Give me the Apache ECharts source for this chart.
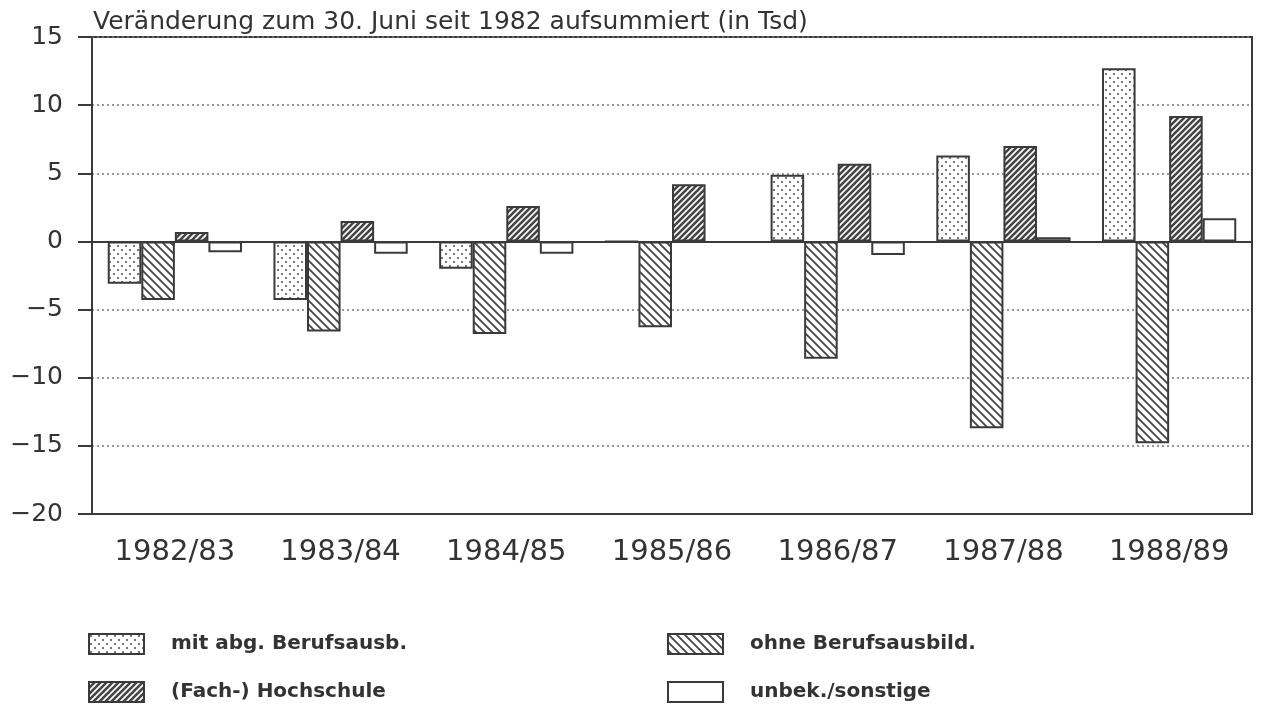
<!DOCTYPE html>
<html>
<head>
<meta charset="utf-8">
<script src="https://cdn.jsdelivr.net/npm/echarts@6/dist/echarts.min.js"></script>
<style>
    html, body { margin: 0; padding: 0; background: #fff; }
    #chart { width: 1265px; height: 711px; }
</style>
</head>
<body>
<div id="chart"></div>
<script>
// 数据 (in Tsd)
var categories = ['1982/83', '1983/84', '1984/85', '1985/86', '1986/87', '1987/88', '1988/89'];
var mitAbg = [-3.1, -4.3, -2.0, 0, 4.9, 6.3, 12.7];
var ohneAusb = [-4.3, -6.6, -6.8, -6.3, -8.6, -13.7, -14.8];
var hochschule = [0.7, 1.5, 2.6, 4.2, 5.7, 7.0, 9.2];
var unbekannt = [-0.8, -0.9, -0.9, -0.1, -1.0, 0.3, 1.7];
var seriesNames = ['mit abg. Berufsausb.', 'ohne Berufsausbild.', '(Fach-) Hochschule', 'unbek./sonstige'];

var ink = '#3a3a3a';
var font = 'DejaVu Sans';

/**
 * 填充图案
 * @param {str} type dots | back | fwd
 */
var makePattern = function (type) {
    var size = type === 'dots' ? 8 : (type === 'back' ? 8 : 6);
    var c = document.createElement('canvas');
    c.width = size;
    c.height = size;
    var ctx = c.getContext('2d');
    ctx.fillStyle = '#fff';
    ctx.fillRect(0, 0, size, size);

    if (type === 'dots') {
        ctx.fillStyle = '#777';
        ctx.fillRect(1, 1, 2, 2);
        ctx.fillRect(5, 5, 2, 2);
        return c;
    }

    ctx.strokeStyle = '#444';
    ctx.lineWidth = type === 'back' ? 1.8 : 2.6;
    ctx.beginPath();
    if (type === 'back') {
        // "\"
        ctx.moveTo(-1, -1); ctx.lineTo(size + 1, size + 1);
        ctx.moveTo(-1, size - 1); ctx.lineTo(1, size + 1);
        ctx.moveTo(size - 1, -1); ctx.lineTo(size + 1, 1);
    } else {
        // "/"
        ctx.moveTo(-1, size + 1); ctx.lineTo(size + 1, -1);
        ctx.moveTo(-1, 1); ctx.lineTo(1, -1);
        ctx.moveTo(size - 1, size + 1); ctx.lineTo(size + 1, size - 1);
    }
    ctx.stroke();
    return c;
};

var fills = [
    { image: makePattern('dots'), repeat: 'repeat' },
    { image: makePattern('back'), repeat: 'repeat' },
    { image: makePattern('fwd'), repeat: 'repeat' },
    '#fff'
];

var barSeries = function (name, data, fill) {
    return {
        name: name,
        type: 'bar',
        data: data,
        barGap: '0%',
        barCategoryGap: '19%',
        itemStyle: {
            color: fill,
            borderColor: ink,
            borderWidth: 2
        }
    };
};

var series = [
    barSeries(seriesNames[0], mitAbg, fills[0]),
    barSeries(seriesNames[1], ohneAusb, fills[1]),
    barSeries(seriesNames[2], hochschule, fills[2]),
    barSeries(seriesNames[3], unbekannt, fills[3])
];

// 零线
series[0].markLine = {
    silent: true,
    symbol: 'none',
    label: { show: false },
    lineStyle: { type: 'solid', color: ink, width: 2 },
    data: [{ yAxis: 0 }]
};

var legendBase = {
    orient: 'vertical',
    top: 633,
    height: 78,
    padding: 0,
    icon: 'rect',
    itemWidth: 55,
    itemHeight: 20,
    itemGap: 26,
    itemStyle: { borderColor: ink, borderWidth: 2 },
    textStyle: {
        fontFamily: font,
        fontSize: 20,
        fontWeight: 'bold',
        color: '#333',
        padding: [0, 0, 0, 22]
    }
};

var option = {
    backgroundColor: '#fff',
    animation: false,
    title: {
        text: 'Veränderung zum 30. Juni seit 1982 aufsummiert (in Tsd)',
        left: 93,
        top: 10,
        padding: 0,
        textStyle: {
            fontFamily: font,
            fontSize: 25,
            fontWeight: 'normal',
            color: '#333'
        }
    },
    legend: [
        Object.assign({}, legendBase, { left: 88, data: [seriesNames[0], seriesNames[2]] }),
        Object.assign({}, legendBase, { left: 667, data: [seriesNames[1], seriesNames[3]] })
    ],
    grid: {
        left: 92,
        right: 13,
        top: 37,
        bottom: 197,
        show: true,
        borderColor: ink,
        borderWidth: 2
    },
    xAxis: {
        type: 'category',
        data: categories,
        axisLine: { onZero: false, lineStyle: { color: ink, width: 2 } },
        axisTick: { alignWithLabel: true, length: 14, lineStyle: { color: ink, width: 2 } },
        axisLabel: { fontFamily: font, fontSize: 29, color: '#333', margin: 24 }
    },
    yAxis: {
        type: 'value',
        min: -20,
        max: 15,
        interval: 5,
        axisLine: { show: true, lineStyle: { color: ink, width: 2 } },
        axisTick: { show: true, length: 14, lineStyle: { color: ink, width: 2 } },
        axisLabel: {
            fontFamily: font,
            fontSize: 25,
            color: '#333',
            margin: 29,
            formatter: function (v) {
                return String(v).replace('-', '\u2212');
            }
        },
        splitLine: {
            show: true,
            lineStyle: { type: [2, 3], color: '#777', width: 1.5 }
        }
    },
    series: series
};

var chart = echarts.init(document.getElementById('chart'));
chart.setOption(option);
</script>
</body>
</html>
